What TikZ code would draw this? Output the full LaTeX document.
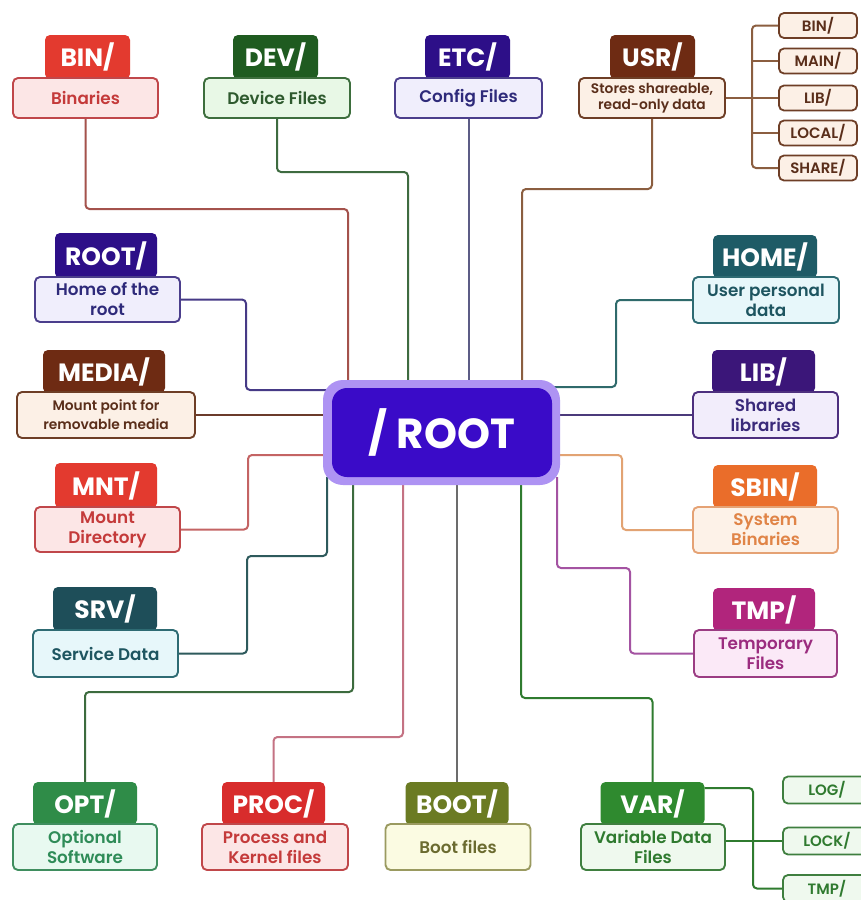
\documentclass[tikz,border=0pt]{standalone}
\usepackage{fontspec}
\setmainfont{Poppins}
\newfontfamily\semifont{Poppins SemiBold}
\usetikzlibrary{backgrounds}

% header / body / root fonts
\newcommand\dirheadfont{\fontsize{25}{28}\selectfont\bfseries}
\newcommand\dirbodyfont{\semifont\fontsize{16.8}{20}\selectfont}
\newcommand\dirusrfont{\semifont\fontsize{13.8}{16}\selectfont}
\newcommand\dirmediafont{\semifont\fontsize{13.8}{19}\selectfont}
\newcommand\dirsubfont{\semifont\fontsize{15}{16}\selectfont}
\newcommand\dirrootfont{\fontsize{42}{48}\selectfont\bfseries}

% header colours
\definecolor{hRed}{HTML}{E33A2F}
\definecolor{hDevG}{HTML}{1F5B20}
\definecolor{hIndigo}{HTML}{2D0F88}
\definecolor{hBrown}{HTML}{6E2B13}
\definecolor{hTeal}{HTML}{1E5B66}
\definecolor{hPurple}{HTML}{3B1679}
\definecolor{hOrange}{HTML}{EA6D2A}
\definecolor{hMagenta}{HTML}{B1257C}
\definecolor{hSrv}{HTML}{1E4E59}
\definecolor{hOpt}{HTML}{2F8C48}
\definecolor{hProc}{HTML}{D82C2C}
\definecolor{hBoot}{HTML}{6B7B23}
\definecolor{hVar}{HTML}{2F8A2F}
% body fills
\definecolor{fPink}{HTML}{FCE6E6}
\definecolor{fGreen}{HTML}{E8F8E6}
\definecolor{fLav}{HTML}{F0EEFC}
\definecolor{fCream}{HTML}{FCF0E6}
\definecolor{fCyan}{HTML}{E7F7FA}
\definecolor{fLilac}{HTML}{F2EDFB}
\definecolor{fPeach}{HTML}{FDF2E8}
\definecolor{fRose}{HTML}{FBE9F7}
\definecolor{fMint}{HTML}{E8F9F0}
\definecolor{fLemon}{HTML}{FBFBE2}
\definecolor{fVar}{HTML}{EFF9EE}
% body borders / text
\definecolor{dRed}{HTML}{C0474A}
\definecolor{tRed}{HTML}{C43A3A}
\definecolor{dGreen}{HTML}{3D6E3D}
\definecolor{tGreen}{HTML}{2E5A2E}
\definecolor{dIndigo}{HTML}{4B3E8C}
\definecolor{tIndigo}{HTML}{2E2A7A}
\definecolor{dBrown}{HTML}{6E3E26}
\definecolor{tBrown}{HTML}{5A2E1A}
\definecolor{dTeal}{HTML}{2E6B73}
\definecolor{tTeal}{HTML}{1E5560}
\definecolor{dPurple}{HTML}{4D2F7E}
\definecolor{tPurple}{HTML}{3A2A7A}
\definecolor{dOrange}{HTML}{E5A274}
\definecolor{tOrange}{HTML}{E08447}
\definecolor{dMagenta}{HTML}{9B3C83}
\definecolor{tMagenta}{HTML}{9B2C7F}
\definecolor{dOpt}{HTML}{3F8E5F}
\definecolor{tOpt}{HTML}{2F8C58}
\definecolor{dBoot}{HTML}{9A9A60}
\definecolor{tBoot}{HTML}{6B6B30}
\definecolor{dVar}{HTML}{3F7F3F}
\definecolor{tVar}{HTML}{2F7A2F}
% connector colours
\definecolor{lnBin}{HTML}{A4524C}
\definecolor{lnDev}{HTML}{3E6B40}
\definecolor{lnEtc}{HTML}{5C5C86}
\definecolor{lnUsr}{HTML}{8B5E40}
\definecolor{lnRootd}{HTML}{463A86}
\definecolor{lnMedia}{HTML}{6B3B2B}
\definecolor{lnHome}{HTML}{2F6A6B}
\definecolor{lnLib}{HTML}{4B3A7B}
\definecolor{lnSbin}{HTML}{E2A373}
\definecolor{lnTmp}{HTML}{A453A2}
\definecolor{lnMnt}{HTML}{C46464}
\definecolor{lnSrv}{HTML}{2E5A5C}
\definecolor{lnOpt}{HTML}{3C6B3E}
\definecolor{lnProc}{HTML}{C47283}
\definecolor{lnBoot}{HTML}{6C6C6C}
\definecolor{lnVar}{HTML}{2F7B2F}
% root
\definecolor{rootFill}{HTML}{3A0BC8}
\definecolor{rootGlow}{HTML}{AE93F3}

\begin{document}
\begin{tikzpicture}[x=1pt,y=-1pt,
  hdr/.style={rectangle, rounded corners=5pt, fill=#1, text=white,
    font=\dirheadfont, inner sep=0pt},
  bdy/.style n args={3}{rectangle, rounded corners=5pt, fill=#1, draw=#2,
    line width=1.9pt, text=#3, font=\dirbodyfont, align=center, inner sep=0pt},
  subbox/.style n args={3}{rectangle, rounded corners=5pt, fill=#1, draw=#2,
    line width=1.8pt, text=#3, font=\dirsubfont, inner sep=0pt},
  conn/.style={line width=2pt, rounded corners=4pt},
  sz/.style 2 args={minimum width=#1pt, minimum height=#2pt},
]
\useasboundingbox (0,0) rectangle (860,900);

% ---------- top row ----------
\node[hdr=hRed, sz={85}{44}] (binH) at (87.5,57) {BIN/};
\node[bdy={fPink}{dRed}{tRed}, sz={145}{40}] (bin) at (85.5,98) {Binaries};

\node[hdr=hDevG, sz={85}{44}] (devH) at (275.5,57) {DEV/};
\node[bdy={fGreen}{dGreen}{tGreen}, sz={146}{40}] (dev) at (277,98) {Device Files};

\node[hdr=hIndigo, sz={85}{44}] (etcH) at (467.5,57) {ETC/};
\node[bdy={fLav}{dIndigo}{tIndigo}, sz={147}{40}] (etc) at (468.5,98) {Config Files};

\node[hdr=hBrown, sz={85}{44}] (usrH) at (652.5,57) {USR/};
\node[bdy={fCream}{dBrown}{tBrown}, sz={146}{40}, font=\dirusrfont] (usr) at (652,98)
  {Stores shareable,\\read-only data};

% usr subtree
\node[subbox={fCream}{dBrown}{tBrown}, sz={78}{25}] (usrBin) at (818,25.5) {BIN/};
\node[subbox={fCream}{dBrown}{tBrown}, sz={78}{25}] (usrMain) at (818,61) {MAIN/};
\node[subbox={fCream}{dBrown}{tBrown}, sz={78}{25}] (usrLib) at (818,98) {LIB/};
\node[subbox={fCream}{dBrown}{tBrown}, sz={78}{25}] (usrLocal) at (818,133) {LOCAL/};
\node[subbox={fCream}{dBrown}{tBrown}, sz={78}{25}] (usrShare) at (818,168) {SHARE/};

% ---------- left column ----------
\node[hdr=hIndigo, sz={102}{45}] (rootdH) at (106,255.5) {ROOT/};
\node[bdy={fLav}{dIndigo}{tIndigo}, sz={145}{45}] (rootd) at (107.5,299.5) {Home of the\\root};

\node[hdr=hBrown, sz={122}{43}] (mediaH) at (104,371.5) {MEDIA/};
\node[bdy={fCream}{dBrown}{tBrown}, sz={178}{46}, font=\dirmediafont] (media) at (106,415)
  {Mount point for\\removable media};

\node[hdr=hRed, sz={102}{45}] (mntH) at (106,485.5) {MNT/};
\node[bdy={fPink}{dRed}{tRed}, sz={145}{45}] (mnt) at (107.5,529.5) {Mount\\Directory};

\node[hdr=hSrv, sz={104}{44}] (srvH) at (105,609) {SRV/};
\node[bdy={fCyan}{dTeal}{tTeal}, sz={145}{47}] (srv) at (105.5,653.5) {Service Data};

% ---------- right column ----------
\node[hdr=hTeal, sz={104}{43}] (homeH) at (765,256.5) {HOME/};
\node[bdy={fCyan}{dTeal}{tTeal}, sz={146}{46}] (home) at (766,300) {User personal\\data};

\node[hdr=hPurple, sz={103}{43}] (libH) at (763.5,371.5) {LIB/};
\node[bdy={fLilac}{dPurple}{tPurple}, sz={145}{46}] (lib) at (765.5,415) {Shared\\libraries};

\node[hdr=hOrange, sz={104}{43}] (sbinH) at (765,486.5) {SBIN/};
\node[bdy={fPeach}{dOrange}{tOrange}, sz={145}{46}] (sbin) at (765.5,530) {System\\Binaries};

\node[hdr=hMagenta, sz={102}{43}] (tmpH) at (764,609.5) {TMP/};
\node[bdy={fRose}{dMagenta}{tMagenta}, sz={143}{47}] (tmp) at (765.5,653.5) {Temporary\\Files};

% ---------- bottom row ----------
\node[hdr=hOpt, sz={104}{43}] (optH) at (85,803.5) {OPT/};
\node[bdy={fMint}{dOpt}{tOpt}, sz={144}{46}] (opt) at (85,847) {Optional\\Software};

\node[hdr=hProc, sz={103}{43}] (procH) at (273.5,803.5) {PROC/};
\node[bdy={fPink}{dRed}{tRed}, sz={146}{46}] (proc) at (275,847) {Process and\\Kernel files};

\node[hdr=hBoot, sz={103}{43}] (bootH) at (457,803.5) {BOOT/};
\node[bdy={fLemon}{dBoot}{tBoot}, sz={145}{46}] (boot) at (458,847) {Boot files};

\node[hdr=hVar, sz={104}{43}] (varH) at (652.5,803.5) {VAR/};
\node[bdy={fVar}{dVar}{tVar}, sz={144}{46}] (var) at (653,847) {Variable Data\\Files};

% var subtree
\node[subbox={fVar}{dVar}{tVar}, sz={88}{27}] (varLog) at (827,790) {LOG/};
\node[subbox={fVar}{dVar}{tVar}, sz={88}{27}] (varLock) at (827,841) {LOCK/};
\node[subbox={fVar}{dVar}{tVar}, sz={88}{27}] (varTmp) at (827,888.5) {TMP/};

% ---------- central root ----------
\node[rectangle, rounded corners=20pt, fill=rootGlow, sz={237}{105}] (rootglow) at (441.5,432.5) {};
\node[rectangle, rounded corners=15pt, fill=rootFill, text=white, font=\dirrootfont,
  sz={220}{89}, inner sep=0pt] (root) at (442,432.5) {/ ROOT};

% ---------- connectors ----------
\begin{pgfonlayer}{background}
\fill[white] (0,0) rectangle (860,900);
\draw[conn, lnBin]   (bin.south) |- (348,209) -- (root.north -| 348,0);
\draw[conn, lnDev]   (dev.south) |- (408,172) -- (root.north -| 408,0);
\draw[conn, lnEtc]   (etc.south) -- (root.north -| etc.south);
\draw[conn, lnUsr]   (usr.south) |- (522,189) -- (root.north -| 522,0);
\draw[conn, lnRootd] (rootd.east) -| (246,390) -- (root.west |- 0,390);
\draw[conn, lnMedia] (media.east) -- (root.west |- media.east);
\draw[conn, lnMnt]   (mnt.east) -| (248,455) -- (root.west |- 0,455);
\draw[conn, lnSrv]   (srv.east) -| (247,556) -- (327,556) -- (root.south -| 327,0);
\draw[conn, lnOpt]   (optH.north) |- (353,692) -- (root.south -| 353,0);
\draw[conn, lnProc]  (procH.north) |- (403,737) -- (root.south -| 403,0);
\draw[conn, lnBoot]  (bootH.north) -- (root.south -| bootH.north);
\draw[conn, lnVar]   (varH.north) |- (521,698) -- (root.south -| 521,0);
\draw[conn, lnTmp]   (root.south -| 557,0) |- (630,568) |- (tmp.west);
\draw[conn, lnSbin]  (root.east |- 0,455) -- (622,455) |- (sbin.west);
\draw[conn, lnLib]   (root.east |- lib.west) -- (lib.west);
\draw[conn, lnHome]  (home.west) -| (616,387) -- (root.east |- 0,387);
% usr subtree
\draw[conn, lnUsr] (usr.east) -- (usrLib.west);
\draw[conn, lnUsr] (usrBin.west) -| (752,98) |- (usrShare.west);
\draw[conn, lnUsr] (usrMain.west -| 752,0) -- (usrMain.west);
\draw[conn, lnUsr] (usrLocal.west -| 752,0) -- (usrLocal.west);
% var subtree
\draw[conn, lnVar] (varH.east |- 0,788) -| (753,840) |- (varTmp.west);
\draw[conn, lnVar] (var.east |- varLock.west) -- (varLock.west);
\end{pgfonlayer}
\end{tikzpicture}
\end{document}
